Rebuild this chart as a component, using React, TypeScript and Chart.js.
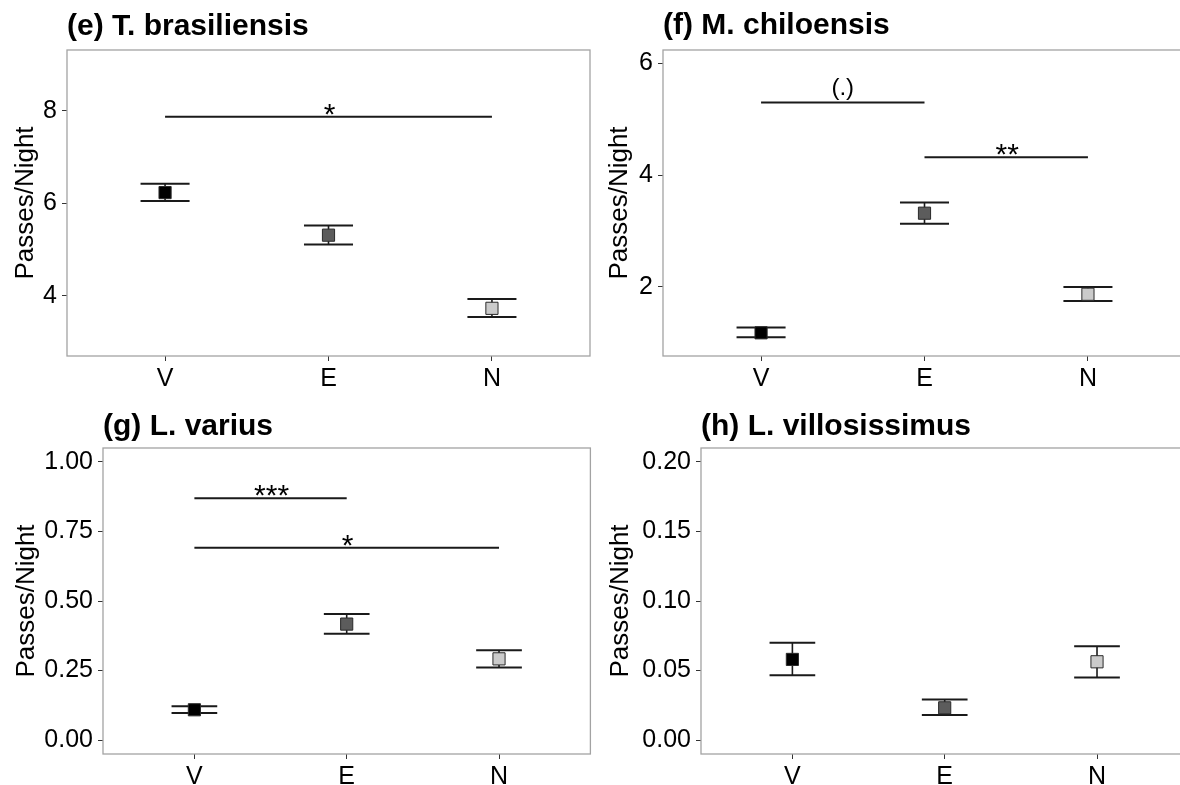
import React, { useEffect, useRef } from "react";
import { Chart, registerables } from "chart.js";

Chart.register(...registerables);

const FONT = "'Liberation Sans', Arial, Helvetica, sans-serif";

const categories = ["V", "E", "N"];
const fills = ["#000000", "#5c5c5c", "#cbcbcb"];

// (e) T. brasiliensis
const eMeans = [6.23, 5.31, 3.73];
const eLower = [6.05, 5.11, 3.54];
const eUpper = [6.42, 5.52, 3.93];
const eTicks = [4, 6, 8];
const eSig = [{ from: 1, to: 3, y: 7.87, label: "*" }];

// (f) M. chiloensis
const fMeans = [1.18, 3.32, 1.87];
const fLower = [1.1, 3.13, 1.75];
const fUpper = [1.275, 3.51, 2.0];
const fTicks = [2, 4, 6];
const fSig = [
  { from: 1, to: 2, y: 5.3, label: "(.)" },
  { from: 2, to: 3, y: 4.32, label: "**" },
];

// (g) L. varius
const gMeans = [0.109, 0.417, 0.292];
const gLower = [0.097, 0.382, 0.261];
const gUpper = [0.122, 0.453, 0.323];
const gTicks = [0, 0.25, 0.5, 0.75, 1.0];
const gSig = [
  { from: 1, to: 2, y: 0.869, label: "***" },
  { from: 1, to: 3, y: 0.691, label: "*" },
];

// (h) L. villosissimus
const hMeans = [0.058, 0.0232, 0.0563];
const hLower = [0.0467, 0.018, 0.045];
const hUpper = [0.07, 0.0292, 0.0675];
const hTicks = [0, 0.05, 0.1, 0.15, 0.2];
const hSig: { from: number; to: number; y: number; label: string }[] = [];

type Panel = {
  title: string;
  means: number[];
  lower: number[];
  upper: number[];
  ticks: number[];
  decimals: number;
  yMin: number;
  yMax: number;
  sig: { from: number; to: number; y: number; label: string }[];
  left: number;
  top: number;
  width: number;
  height: number;
  yAxisW: number;
  padRight: number;
  padTop: number;
  xAxisH: number;
  titleBaseline: number;
  yTitleX: number;
};

const panels: Panel[] = [
  {
    title: "(e) T. brasiliensis",
    means: eMeans, lower: eLower, upper: eUpper, ticks: eTicks, decimals: 0,
    yMin: 2.7, yMax: 9.31, sig: eSig,
    left: 0, top: 0, width: 600, height: 400,
    yAxisW: 67, padRight: 10, padTop: 50, xAxisH: 44, titleBaseline: 34.5, yTitleX: 26,
  },
  {
    title: "(f) M. chiloensis",
    means: fMeans, lower: fLower, upper: fUpper, ticks: fTicks, decimals: 0,
    yMin: 0.765, yMax: 6.24, sig: fSig,
    left: 596, top: 0, width: 600, height: 400,
    yAxisW: 67, padRight: 10, padTop: 50, xAxisH: 44, titleBaseline: 34, yTitleX: 24,
  },
  {
    title: "(g) L. varius",
    means: gMeans, lower: gLower, upper: gUpper, ticks: gTicks, decimals: 2,
    yMin: -0.05, yMax: 1.05, sig: gSig,
    left: 0, top: 395, width: 600, height: 390,
    yAxisW: 103, padRight: 9, padTop: 53, xAxisH: 31, titleBaseline: 40, yTitleX: 27,
  },
  {
    title: "(h) L. villosissimus",
    means: hMeans, lower: hLower, upper: hUpper, ticks: hTicks, decimals: 2,
    yMin: -0.01, yMax: 0.21, sig: hSig,
    left: 598, top: 395, width: 600, height: 390,
    yAxisW: 103, padRight: 9, padTop: 53, xAxisH: 31, titleBaseline: 40, yTitleX: 23,
  },
];

function makePlugin(p: Panel) {
  return {
    id: "panelDecor",
    beforeDatasetsDraw(chart: any) {
      const { ctx, chartArea } = chart;
      const xs = chart.scales.x;
      const ys = chart.scales.y;
      ctx.save();
      // panel border
      ctx.strokeStyle = "#a3a3a3";
      ctx.lineWidth = 1.3;
      ctx.strokeRect(
        chartArea.left,
        chartArea.top,
        chartArea.right - chartArea.left,
        chartArea.bottom - chartArea.top
      );
      // error bars
      ctx.strokeStyle = "#1a1a1a";
      for (let i = 0; i < p.means.length; i++) {
        const cx = xs.getPixelForValue(i + 1);
        const x0 = xs.getPixelForValue(i + 1 - 0.15);
        const x1 = xs.getPixelForValue(i + 1 + 0.15);
        const yl = ys.getPixelForValue(p.lower[i]);
        const yu = ys.getPixelForValue(p.upper[i]);
        ctx.lineWidth = 1.6;
        ctx.beginPath();
        ctx.moveTo(cx, yl);
        ctx.lineTo(cx, yu);
        ctx.stroke();
        ctx.lineWidth = 2;
        ctx.beginPath();
        ctx.moveTo(x0, yl);
        ctx.lineTo(x1, yl);
        ctx.moveTo(x0, yu);
        ctx.lineTo(x1, yu);
        ctx.stroke();
      }
      // significance lines
      for (const s of p.sig) {
        const xa = xs.getPixelForValue(s.from);
        const xb = xs.getPixelForValue(s.to);
        const yy = ys.getPixelForValue(s.y);
        ctx.strokeStyle = "#1a1a1a";
        ctx.lineWidth = 2;
        ctx.beginPath();
        ctx.moveTo(xa, yy);
        ctx.lineTo(xb, yy);
        ctx.stroke();
        ctx.fillStyle = "#000";
        ctx.textAlign = "center";
        ctx.textBaseline = "alphabetic";
        const mid = (xa + xb) / 2;
        if (s.label.indexOf("*") >= 0) {
          ctx.font = `30px ${FONT}`;
          ctx.fillText(s.label, mid + 1, yy + 7);
        } else {
          ctx.font = `24px ${FONT}`;
          ctx.fillText(s.label, mid, yy - 8);
        }
      }
      ctx.restore();
    },
    afterDraw(chart: any) {
      const { ctx, chartArea } = chart;
      ctx.save();
      ctx.fillStyle = "#000";
      ctx.font = `bold 30px ${FONT}`;
      ctx.textAlign = "left";
      ctx.textBaseline = "alphabetic";
      ctx.fillText(p.title, chartArea.left, p.titleBaseline);
      ctx.translate(p.yTitleX, (chartArea.top + chartArea.bottom) / 2);
      ctx.rotate(-Math.PI / 2);
      ctx.font = `26px ${FONT}`;
      ctx.textAlign = "center";
      ctx.textBaseline = "middle";
      ctx.fillText("Passes/Night", 0, 0);
      ctx.restore();
    },
  };
}

function makeConfig(p: Panel): any {
  return {
    type: "scatter",
    data: {
      datasets: [
        {
          data: categories.map((_, i) => ({ x: i + 1, y: p.means[i] })),
          pointStyle: "rect",
          pointRadius: 8.6,
          pointHoverRadius: 8.6,
          backgroundColor: fills,
          borderColor: "#2a2a2a",
          borderWidth: 1,
        },
      ],
    },
    options: {
      animation: false,
      responsive: false,
      maintainAspectRatio: false,
      devicePixelRatio: 1,
      events: [],
      layout: { padding: { top: p.padTop, right: p.padRight, left: 0, bottom: 0 } },
      plugins: {
        legend: { display: false },
        tooltip: { enabled: false },
        title: { display: false },
      },
      scales: {
        x: {
          type: "linear",
          min: 0.4,
          max: 3.6,
          afterBuildTicks: (s: any) => {
            s.ticks = categories.map((_, i) => ({ value: i + 1 }));
          },
          afterFit: (s: any) => {
            s.height = p.xAxisH;
          },
          ticks: {
            callback: (v: number) => categories[Math.round(v) - 1] ?? "",
            font: { family: FONT, size: 25 },
            color: "#000",
            padding: 3,
            maxRotation: 0,
            autoSkip: false,
          },
          grid: { drawOnChartArea: false, drawTicks: true, tickLength: 5, color: "#333", lineWidth: 1 },
          border: { display: false },
        },
        y: {
          type: "linear",
          min: p.yMin,
          max: p.yMax,
          afterBuildTicks: (s: any) => {
            s.ticks = p.ticks.map((v) => ({ value: v }));
          },
          afterFit: (s: any) => {
            s.width = p.yAxisW;
          },
          ticks: {
            callback: (v: number) => Number(v).toFixed(p.decimals),
            font: { family: FONT, size: 25 },
            color: "#000",
            padding: 5,
            autoSkip: false,
          },
          grid: { drawOnChartArea: false, drawTicks: true, tickLength: 5, color: "#333", lineWidth: 1 },
          border: { display: false },
        },
      },
    },
    plugins: [makePlugin(p)],
  };
}

function PanelChart({ p }: { p: Panel }) {
  const ref = useRef<HTMLCanvasElement | null>(null);
  useEffect(() => {
    if (!ref.current) return;
    const chart = new Chart(ref.current, makeConfig(p));
    return () => chart.destroy();
  }, [p]);
  return (
    <canvas
      ref={ref}
      width={p.width}
      height={p.height}
      style={{
        position: "absolute",
        left: p.left,
        top: p.top,
        width: p.width,
        height: p.height,
      }}
    />
  );
}

export default function App() {
  return (
    <div
      style={{
        position: "absolute",
        left: 0,
        top: 0,
        width: 1180,
        height: 785,
        overflow: "hidden",
        background: "#fff",
      }}
    >
      {panels.map((p) => (
        <PanelChart key={p.title} p={p} />
      ))}
    </div>
  );
}
